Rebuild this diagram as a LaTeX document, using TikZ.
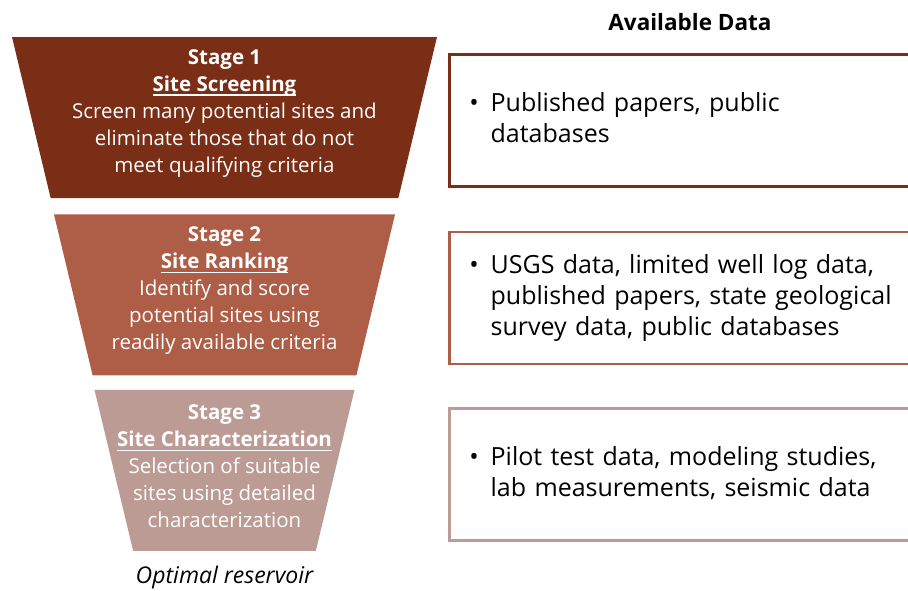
\documentclass[tikz,border=0pt]{standalone}
\usepackage{fontspec}
\setmainfont{Open Sans}
\usetikzlibrary{shapes.geometric, positioning}
\definecolor{stageone}{HTML}{7A2E16}
\definecolor{stagetwo}{HTML}{AE5D46}
\definecolor{stagethree}{HTML}{BC9B94}
\tikzstyle{stage}     = [trapezium, trapezium angle=76.5, trapezium stretches body, shape border rotate=180,
                         text height=161pt, text depth=0pt, inner sep=0pt]
\tikzstyle{stagetext} = [text=white, align=center, yshift=4pt, font=\fontsize{20.5}{27}\selectfont]
\tikzstyle{databox}   = [rectangle, draw, line width=2.5pt, minimum width=470pt, minimum height=132pt,
                         text width=430pt, inner xsep=20pt, align=left, font=\fontsize{25}{31}\selectfont]
% bold underlined stage title
\newcommand{\sitetitle}[1]{\setbox0\hbox{\textbf{#1}}\rlap{\rule[-4.5pt]{\wd0}{1.6pt}}\box0}
\newcommand{\datalist}[1]{\begin{tabular}{@{}l@{\hspace{12pt}}l@{}}\textbullet & #1\end{tabular}}

\begin{document}
\begin{tikzpicture}[x=1pt, y=-1pt]
  \useasboundingbox (0,0) rectangle (908,590);

  % Funnel stages
  \node (stage1) [stage, minimum width=425pt, fill=stageone] at (224.5,117.5) {};
  \node (stage2) [stage, minimum width=341pt, fill=stagetwo, below=16pt of stage1] {};
  \node (stage3) [stage, minimum width=260pt, fill=stagethree, below=14pt of stage2] {};

  \node (text1) [stagetext] at (stage1)
        {\textbf{Stage 1}\\\sitetitle{Site Screening}\\Screen many potential sites and\\
         eliminate those that do not\\meet qualifying criteria};
  \node (text2) [stagetext] at (stage2)
        {\textbf{Stage 2}\\\sitetitle{Site Ranking}\\Identify and score\\
         potential sites using\\readily available criteria};
  \node (text3) [stagetext] at (stage3)
        {\textbf{Stage 3}\\\sitetitle{Site Characterization}\\Selection of suitable\\
         sites using detailed\\characterization};
  \node (result) [below=11pt of stage3, font=\fontsize{23}{27}\selectfont\itshape] {Optimal reservoir};

  % Data column
  \node (head) [font=\fontsize{22.5}{26}\selectfont\bfseries] at (690,22) {Available Data};
  \node (data1) [databox, draw=stageone, anchor=west] at (448,120.5)
        {\datalist{Published papers, public\\ & databases}};
  \node (data2) [databox, draw=stagetwo, below=43pt of data1]
        {\datalist{USGS data, limited well log data,\\ & published papers, state geological\\
         & survey data, public databases}};
  \node (data3) [databox, draw=stagethree, below=42pt of data2]
        {\datalist{Pilot test data, modeling studies,\\ & lab measurements, seismic data}};

\end{tikzpicture}
\end{document}
